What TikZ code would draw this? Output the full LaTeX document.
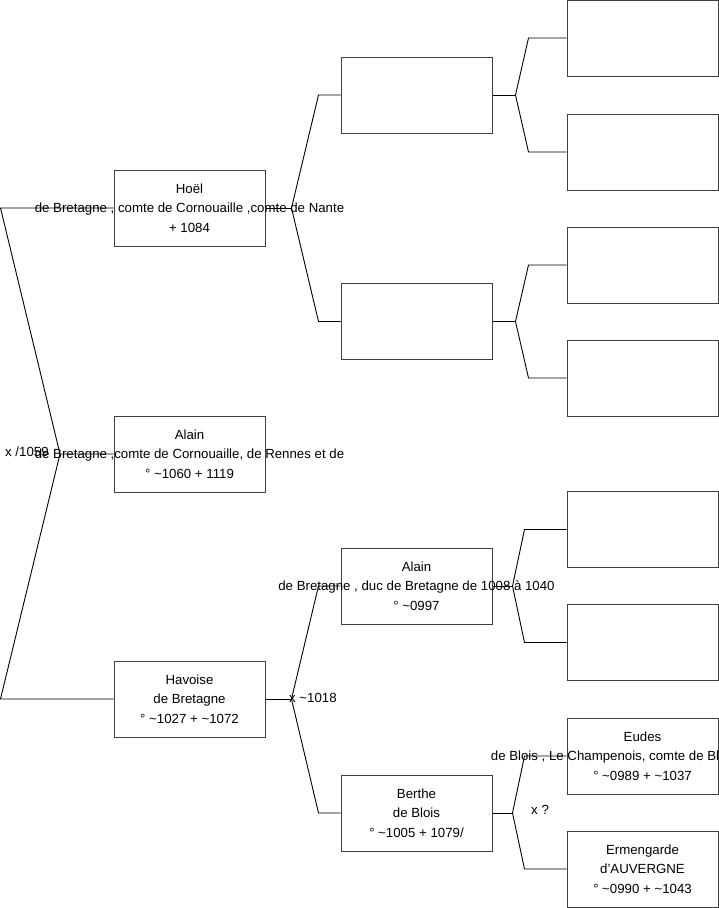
\documentclass[tikz,border=0pt]{standalone}
\usepackage{fontspec}
\setmainfont{Liberation Sans}
\usetikzlibrary{positioning}

\begin{document}
\begin{tikzpicture}[
    x=1pt, y=-1pt,
    every node/.style={font=\fontsize{13.25}{19.5}\selectfont},
    person/.style={draw=black!75, line width=1pt, minimum width=151pt, minimum height=76pt, inner sep=0pt},
    ptext/.style={align=center, inner sep=0pt},
    link/.style={draw=black, line width=0.9pt},
    union/.style={anchor=base west, inner sep=0pt}
  ]

    \useasboundingbox (0,0) rectangle (719,908);

    %------------------ Generation 1 ------------------%
    \node[person] (hoel) at (189.5,208) {};
    \node[person] (alain) at (189.5,454) {};
    \node[person] (havoise) at (189.5,699) {};

    \node[ptext] (hoel-t) at (hoel) {Hoël\\de Bretagne , comte de Cornouaille ,comte de Nante\\+ 1084};
    \node[ptext] (alain-t) at (alain) {Alain\\de Bretagne ,comte de Cornouaille, de Rennes et de\\° \textasciitilde1060 + 1119};
    \node[ptext] (havoise-t) at (havoise) {Havoise\\de Bretagne\\° \textasciitilde1027 + \textasciitilde1072};

    %------------------ Generation 2 ------------------%
    \node[person] (hoelf) at (416.5,95) {};
    \node[person] (hoelm) at (416.5,321.5) {};
    \node[person] (alainb) at (416.5,586) {};
    \node[person] (berthe) at (416.5,813) {};

    \node[ptext] (alainb-t) at (alainb) {Alain\\de Bretagne , duc de Bretagne de 1008 à 1040\\° \textasciitilde0997};
    \node[ptext] (berthe-t) at (berthe) {Berthe\\de Blois\\° \textasciitilde1005 + 1079/};

    %------------------ Generation 3 ------------------%
    \node[person] (g1) at (642.5,38) {};
    \node[person] (g2) at (642.5,152) {};
    \node[person] (g3) at (642.5,265) {};
    \node[person] (g4) at (642.5,378) {};
    \node[person] (g5) at (642.5,529.5) {};
    \node[person] (g6) at (642.5,642.5) {};
    \node[person] (eudes) at (642.5,756) {};
    \node[person] (ermengarde) at (642.5,869) {};

    \node[ptext] (eudes-t) at (eudes) {Eudes\\\mbox{}\\° \textasciitilde0989 + \textasciitilde1037};
    \node[union] (eudes-b) at (490.7,760) {de Blois , Le Champenois, comte de Bl};
    \node[ptext] (ermengarde-t) at (ermengarde) {Ermengarde\\d'AUVERGNE\\° \textasciitilde0990 + \textasciitilde1043};

    %------------------ Forks ------------------%
    % Alain -> father and mother
    \coordinate (f0) at (60,454);
    \draw[link] (alain.west) -- (f0) -- ([xshift=-113pt]hoel.west) -- (hoel.west);
    \draw[link] (f0) -- ([xshift=-113pt]havoise.west) -- (havoise.west);

    % Hoel
    \draw[link] (hoel.east) -- ++(26,0) coordinate (f1);
    \draw[link] (f1) -- ([xshift=-22pt]hoelf.west) -- (hoelf.west);
    \draw[link] (f1) -- ([xshift=-22pt]hoelm.west) -- (hoelm.west);

    % Havoise
    \draw[link] (havoise.east) -- ++(26,0) coordinate (f2);
    \draw[link] (f2) -- ([xshift=-22pt]alainb.west) -- (alainb.west);
    \draw[link] (f2) -- ([xshift=-22pt]berthe.west) -- (berthe.west);

    % Generation 2 -> 3
    \draw[link] (hoelf.east) -- ++(23,0) coordinate (f3);
    \draw[link] (f3) -- ([xshift=-38pt]g1.west) -- (g1.west);
    \draw[link] (f3) -- ([xshift=-38pt]g2.west) -- (g2.west);

    \draw[link] (hoelm.east) -- ++(23,0) coordinate (f4);
    \draw[link] (f4) -- ([xshift=-38pt]g3.west) -- (g3.west);
    \draw[link] (f4) -- ([xshift=-38pt]g4.west) -- (g4.west);

    \draw[link] (alainb.east) -- ++(20,0) coordinate (f5);
    \draw[link] (f5) -- ([xshift=-42pt]g5.west) -- (g5.west);
    \draw[link] (f5) -- ([xshift=-42pt]g6.west) -- (g6.west);

    \draw[link] (berthe.east) -- ++(20,0) coordinate (f6);
    \draw[link] (f6) -- ([xshift=-42pt]eudes.west) -- (eudes.west);
    \draw[link] (f6) -- ([xshift=-42pt]ermengarde.west) -- (ermengarde.west);

    % Unions
    \node[union] (u1) at (5,456) {x /1059};
    \node[union] (u2) at (289,702) {x \textasciitilde1018};
    \node[union] (u3) at (531,814) {x ?};

  \end{tikzpicture}
\end{document}
